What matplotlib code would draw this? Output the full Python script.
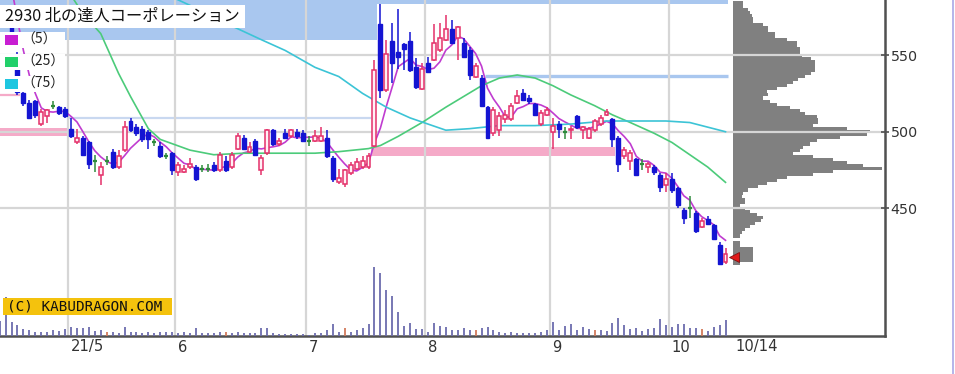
import numpy as np
import pandas as pd
import matplotlib
matplotlib.use("Agg")
import matplotlib.pyplot as plt
from matplotlib.patches import Rectangle
from matplotlib.lines import Line2D
from matplotlib.transforms import blended_transform_factory

plt.rcParams['font.family'] = ['Noto Sans CJK JP', 'DejaVu Sans']

# ---------------- data ----------------
title = "2930 北の達人コーポレーション"
first_index = -12          # trading-day index of first candle (0 = 2021-05-06)

opens = [600, 576, 568, 548, 525, 519, 520, 505, 510, 517, 516, 515,
         502, 493, 496, 493, 481, 472, 481, 487, 477, 488, 507, 503, 502, 500,
         493, 491, 484, 486, 474, 474, 477, 477, 476, 476, 478, 475, 481, 477,
         489, 496, 487, 494, 475, 486, 501, 492, 499, 497, 500, 499, 494, 494,
         494, 496, 483, 467, 466, 473, 476, 477, 477, 491, 570, 527, 559, 552,
         557, 559, 542, 528, 545, 547, 553, 560, 567, 561, 558, 553, 536, 535,
         516, 499, 501, 508, 508, 519, 525, 522, 518, 505, 511, 500, 505, 500,
         501, 510, 501, 496, 501, 505, 511, 508, 496, 484, 481, 482, 479, 477,
         477, 472, 465, 469, 463, 449, 450, 447, 438, 443, 439, 426, 415]
highs = [602, 579, 570, 552, 526, 521, 521, 515, 515, 520, 517, 516,
         509, 502, 497, 494, 485, 480, 484, 489, 488, 507, 509, 505, 504, 501,
         495, 493, 486, 487, 480, 478, 483, 478, 478, 479, 480, 487, 484, 487,
         499, 498, 493, 495, 485, 502, 502, 496, 502, 502, 502, 501, 497, 501,
         503, 501, 484, 476, 476, 480, 483, 484, 486, 547, 583, 560, 571, 580,
         558, 565, 548, 545, 549, 570, 571, 576, 573, 569, 561, 555, 545, 537,
         517, 516, 513, 514, 519, 527, 528, 524, 519, 514, 516, 509, 507, 503,
         504, 511, 504, 503, 508, 511, 515, 509, 497, 490, 488, 483, 482, 480,
         478, 473, 473, 473, 464, 450, 458, 448, 444, 445, 440, 428, 424]
lows = [586, 568, 556, 524, 517, 508, 509, 504, 506, 515, 511, 509,
        496, 492, 484, 476, 474, 465, 478, 476, 476, 487, 500, 497, 493, 489,
        491, 483, 482, 472, 471, 473, 476, 468, 474, 474, 474, 474, 474, 476,
        488, 488, 486, 484, 472, 485, 491, 491, 495, 496, 495, 493, 491, 493,
        493, 483, 467, 466, 464, 472, 475, 476, 476, 490, 522, 526, 532, 541,
        540, 539, 528, 527, 538, 546, 552, 559, 557, 547, 548, 534, 535, 516,
        495, 497, 497, 506, 507, 518, 520, 518, 510, 504, 510, 489, 496, 495,
        495, 502, 495, 495, 500, 504, 510, 490, 474, 482, 475, 471, 475, 473,
        472, 461, 461, 460, 450, 440, 444, 434, 437, 439, 430, 413, 414]
closes = [590, 570, 560, 526, 519, 509, 511, 513, 514, 517, 512, 510,
          497, 496, 485, 479, 481, 477, 481, 477, 484, 503, 501, 499, 495, 495,
          493, 484, 484, 475, 478, 476, 479, 469, 476, 476, 475, 485, 475, 485,
          497, 489, 490, 485, 483, 501, 492, 494, 496, 501, 497, 494, 494, 497,
          497, 484, 469, 470, 475, 478, 480, 481, 484, 540, 527, 551, 545, 549,
          554, 540, 529, 541, 539, 558, 561, 567, 558, 568, 549, 537, 543, 517,
          496, 514, 510, 511, 517, 523, 521, 520, 511, 512, 514, 504, 502, 500,
          502, 503, 503, 502, 507, 509, 513, 495, 479, 488, 486, 472, 479, 479,
          474, 464, 469, 462, 452, 444, 450, 435, 442, 440, 430, 414, 420]
earlier_closes = [640, 635, 630, 620]   # closes before the first candle (for the 5-day average)

volume = [150, 390, 140, 110, 70, 60, 40, 40, 40, 60, 50, 70,
          90, 80, 80, 90, 50, 60, 40, 40, 30, 90, 40, 40, 30, 40,
          30, 40, 40, 40, 30, 40, 30, 80, 30, 30, 30, 40, 40, 30,
          40, 30, 30, 30, 80, 80, 30, 20, 20, 20, 20, 20, 10, 27,
          27, 60, 120, 43, 77, 43, 60, 77, 120, 687, 633, 460, 400, 237,
          103, 133, 70, 70, 43, 133, 103, 87, 60, 60, 77, 60, 60, 77,
          87, 60, 43, 27, 43, 27, 27, 27, 27, 43, 60, 143, 60, 103,
          120, 60, 87, 70, 60, 57, 50, 133, 180, 107, 67, 77, 50, 67,
          83, 167, 110, 93, 123, 123, 83, 83, 67, 50, 93, 110, 157]
sq_days = [6, 26, 46, 68, 88, 106]      # volume bars drawn in red

ma25_idx = [0, 2, 5, 8, 10, 11, 13, 15, 20, 24, 29, 33, 38, 41, 45, 50, 52, 55,
            59, 63, 66, 69, 72, 75, 78, 81, 84, 88, 91, 94, 98, 101, 104, 107, 110]
ma25_val = [589, 577, 564, 538, 523, 516, 502, 495, 488, 485, 486, 486, 486, 486,
            487, 489, 491, 497, 506, 516, 523, 530, 535, 537, 535, 530, 524, 517,
            511, 506, 499, 493, 485, 477, 467]
ma75_idx = [14, 18, 23, 27, 32, 36, 41, 45, 49, 53, 57, 60, 63, 67, 72, 78, 84,
            90, 96, 100, 104, 107, 110]
ma75_val = [593, 586, 577, 569, 560, 553, 542, 536, 525, 516, 509, 505, 501, 502,
            504, 504, 505, 507, 507, 507, 506, 503, 500]

month_idx = [0, 18, 40, 60, 81, 101]
month_labels = ["21/5", "6", "7", "8", "9", "10"]
last_label = "10/14"
y_ticks = [450, 500, 550]

profile_price = list(range(414, 586, 2))
profile_vol = [7, 20, 20, 20, 20, 20, 7, 7, 0, 7, 9, 12, 17, 22, 28, 30, 24, 17,
               12, 7, 12, 12, 9, 10, 15, 25, 34, 44, 54, 80, 100, 149, 130, 114,
               100, 80, 60, 67, 70, 77, 84, 107, 134, 137, 114, 80, 85, 85, 84, 72,
               67, 57, 44, 37, 30, 35, 34, 44, 54, 60, 65, 72, 78, 82, 82, 82, 82,
               78, 69, 67, 67, 64, 64, 54, 42, 42, 35, 35, 30, 20, 20, 19, 17, 15,
               10, 10]

# price zones: (first day, last day, low price, high price)
blue_zones = [(-12, 51, 560, 600), (52, 110, 583.5, 600)]
pink_zones = [(-12, -1, 497, 502.2), (51, 91, 484.2, 490)]
blue_lines = [(70, 110, 536.3), (0, 50, 509.2)]
pink_lines = [(-12, -9, 524)]

# ---------------- figure ----------------
W, H = 955, 374
fig = plt.figure(figsize=(W / 100, H / 100), dpi=100)
fig.patch.set_facecolor('white')

def frect(x0, y0, x1, y1):
    return [x0 / W, 1 - y1 / H, (x1 - x0) / W, (y1 - y0) / H]

ax = fig.add_axes(frect(0, 0, 885, 336))
px_per_day = 5.95
x_left = -71 / px_per_day
x_right = (885 - 71) / px_per_day
ax.set_xlim(x_left, x_right)
ax.set_ylim(366.8, 585.9)

idx = np.arange(first_index, first_index + len(opens))

# zones
zc_blue = '#a9c7ef'
zc_pink = '#f5aac8'
for a, b, lo, hi in blue_zones:
    ax.add_patch(Rectangle((a - 0.5, lo), b - a + 1, hi - lo, facecolor=zc_blue,
                           edgecolor='none', zorder=0.2))
for a, b, lo, hi in pink_zones:
    ax.add_patch(Rectangle((a - 0.5, lo), b - a + 1, hi - lo, facecolor=zc_pink,
                           edgecolor='none', zorder=0.2))
ax.hlines([blue_lines[0][2]], blue_lines[0][0] - 0.5, blue_lines[0][1] + 0.5,
          color=zc_blue, lw=2.4, zorder=0.3)
ax.hlines([blue_lines[1][2]], blue_lines[1][0] - 0.5, blue_lines[1][1] + 0.5,
          color='#c9d8f0', lw=1.6, zorder=0.3)
for a, b, p in pink_lines:
    ax.hlines([p], a - 0.5, b + 0.5, color=zc_pink, lw=1.6, zorder=0.3)

# price-by-volume profile
prof_left = (733 - 71) / px_per_day
ax.barh(profile_price, np.array(profile_vol) / px_per_day, height=2.0,
        left=prof_left, color='#808080', edgecolor='none', zorder=0.4)

# grid
grid_c = '#d6d6d6'
for t in y_ticks:
    ax.axhline(t, color=grid_c, lw=1.6, zorder=0.6)
for m in month_idx:
    ax.axvline(m - 0.5, color=grid_c, lw=1.6, zorder=0.6)

# moving averages
ma5 = pd.Series(earlier_closes + closes).rolling(5).mean().values[len(earlier_closes):]
ax.plot(idx, ma5, color='#c03cd0', lw=1.2, zorder=2)
ax.plot(ma25_idx, ma25_val, color='#4ccb7a', lw=1.2, zorder=2)
ax.plot(ma75_idx, ma75_val, color='#3cc4d6', lw=1.2, zorder=2)

# candles
red_e, red_f = '#e4306a', '#fff0f5'
blue_c = '#1414d2'
green_c = '#2e8b3c'
bw = 0.66
for i, o, h, l, c in zip(idx, opens, highs, lows, closes):
    if c > o:
        ax.vlines(i, l, h, color=red_e, lw=1.1, zorder=3)
        ax.add_patch(Rectangle((i - bw / 2, o), bw, c - o, facecolor=red_f,
                               edgecolor=red_e, lw=1.1, zorder=4))
    elif c < o:
        ax.vlines(i, l, h, color=blue_c, lw=1.1, zorder=3)
        ax.add_patch(Rectangle((i - bw / 2, c), bw, o - c, facecolor=blue_c,
                               edgecolor=blue_c, lw=1.0, zorder=4))
    else:
        ax.vlines(i, l, h, color=green_c, lw=1.1, zorder=3)
        ax.hlines(o, i - bw / 2, i + bw / 2, color=green_c, lw=1.6, zorder=4)

# current price marker
ax.plot([prof_left + 0.2], [closes[-1] - 1.5], marker='<', ms=6.5, color='#e01818',
        mec='#801010', mew=0.6, zorder=6, clip_on=False)

# axes styling
for s in ['top', 'left']:
    ax.spines[s].set_visible(False)
for s in ['right', 'bottom']:
    ax.spines[s].set_color('#505050')
    ax.spines[s].set_linewidth(1.8)
ax.yaxis.tick_right()
ax.set_yticks(y_ticks)
ax.set_yticklabels([str(t) for t in y_ticks], family='DejaVu Sans', fontsize=10.3,
                   color='#333333')
ax.tick_params(axis='y', direction='inout', length=6, width=1.2, color='#505050', pad=1)
ax.set_xticks([])

trans = blended_transform_factory(ax.transData, ax.transAxes)
for m, lab in zip(month_idx, month_labels):
    ax.annotate(lab, (m - 0.5, 0), xycoords=trans, xytext=(2.5, -11),
                textcoords='offset pixels', ha='left', va='center',
                family='DejaVu Sans', fontsize=10.6, color='#333333', annotation_clip=False)
ax.annotate(last_label, (idx[-1] + 0.5, 0), xycoords=trans, xytext=(6.5, -11),
            textcoords='offset pixels', ha='left', va='center',
            family='DejaVu Sans', fontsize=10.6, color='#333333', annotation_clip=False)

# volume panel
vax = fig.add_axes(frect(0, 236, 885, 336))
vax.set_xlim(x_left, x_right)
vax.set_ylim(0, 1000)
vax.axis('off')
vax.patch.set_alpha(0)
vcols = ['#d27a5a' if i in sq_days else '#6c6cae' for i in idx]
vax.vlines(idx, 0, volume, colors=vcols, lw=1.3)

# title box
fig.patches.append(Rectangle((0, 1 - 28 / H), 245 / W, 23 / H, transform=fig.transFigure,
                             facecolor='white', edgecolor='none', zorder=10))
fig.text(5 / W, 1 - 16.5 / H, title, fontsize=11.7, color='#111111', va='center',
         ha='left', zorder=11)

# legend rows
leg = [("（5）", '#c81ed2', 40), ("（25）", '#22d06a', 62), ("（75）", '#1ec6e0', 84)]
for lab, col, yc in leg:
    fig.patches.append(Rectangle((0, 1 - (yc + 8) / H), 65 / W, 16 / H,
                                 transform=fig.transFigure, facecolor='white',
                                 edgecolor='none', zorder=10))
    fig.patches.append(Rectangle((5 / W, 1 - (yc + 5) / H), 13 / W, 10 / H,
                                 transform=fig.transFigure, facecolor=col,
                                 edgecolor='none', zorder=11))
    fig.text(21 / W, 1 - yc / H, lab, fontsize=10, color='#222222', va='center',
             ha='left', zorder=12)

# copyright label
fig.patches.append(Rectangle((3 / W, 1 - 315 / H), 169 / W, 17 / H, transform=fig.transFigure,
                             facecolor='#f4c20d', edgecolor='none', zorder=10))
fig.text(7 / W, 1 - 306.5 / H, "(C) KABUDRAGON.COM", family='DejaVu Sans Mono',
         fontsize=10.3, color='#111111', va='center', ha='left', zorder=11)

# outer frame line on the right
fig.add_artist(Line2D([953 / W, 953 / W], [0, 1], transform=fig.transFigure,
                      color='#a8a8e6', lw=1.2))

fig.savefig('out.png', dpi=100, facecolor='white')
